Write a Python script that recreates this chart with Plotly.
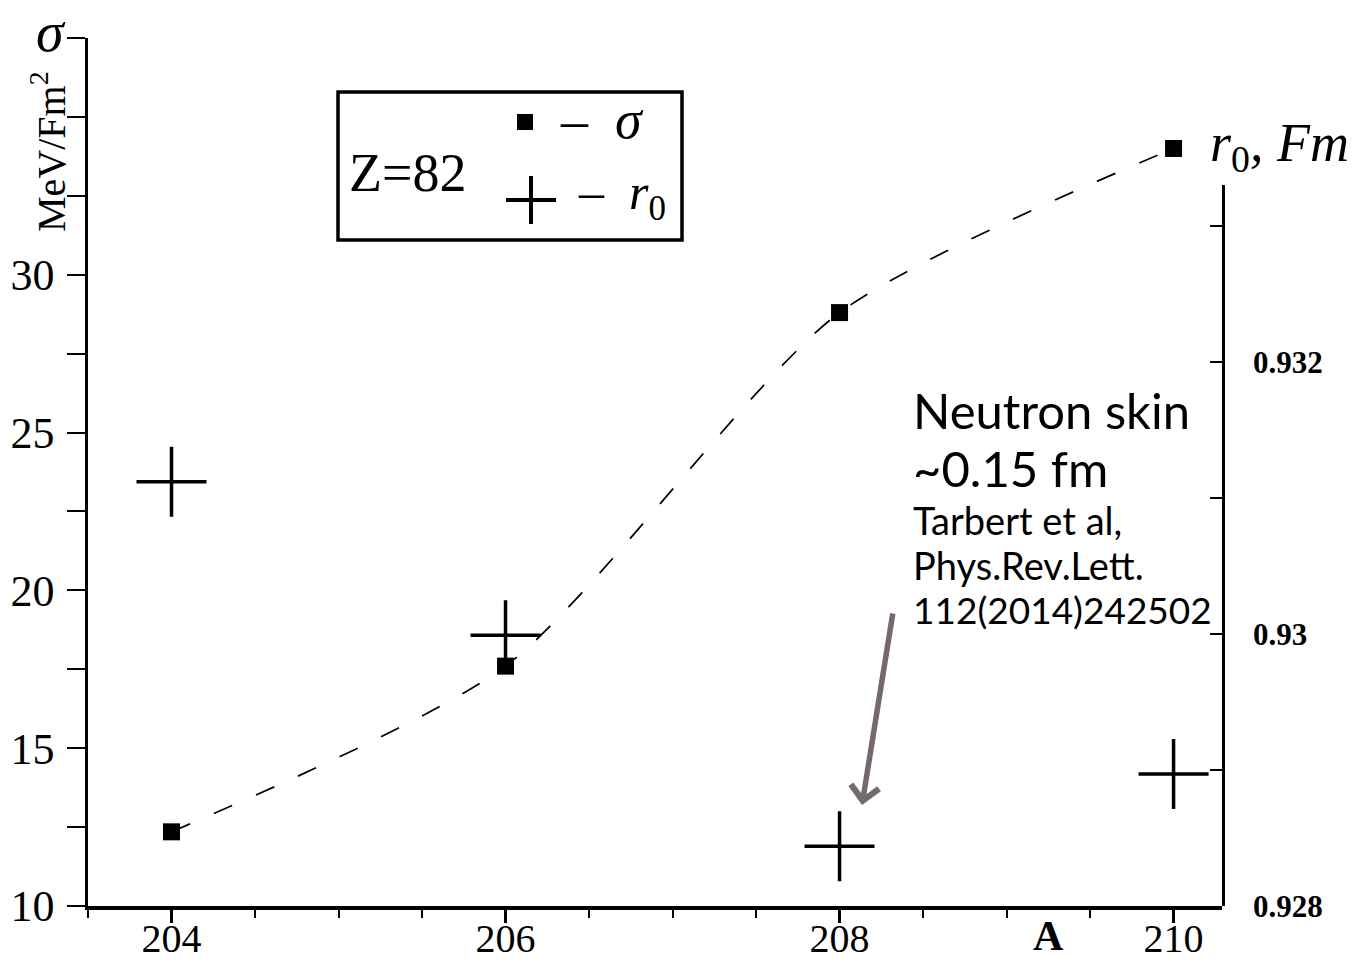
import plotly.graph_objects as go

# ---- data ----
A = [204, 206, 208, 210]
sigma = [12.35, 17.6, 28.8, 34.0]          # MeV/Fm^2 (left axis)
r0 = [0.93112, 0.92999, 0.92844, 0.92897]   # Fm (right axis)

x_ticks = [204, 206, 208, 210]
x_minor = [203.5, 204.5, 205, 205.5, 206.5, 207, 207.5, 208.5, 209, 209.5]
y_ticks = [10, 15, 20, 25, 30]
y_minor = [12.5, 17.5, 22.5, 27.5, 32.5, 35, 37.5]
y2_ticks = [0.928, 0.930, 0.932]
y2_ticktext = ["0.928", "0.93", "0.932"]
y2_minor = [0.929, 0.931, 0.933]

SERIF = "Liberation Serif"
SANS = "Lato"

# plot area in pixels: x 88..1222, y 38..906
L, R, T, B = 88, 1222, 38, 906
def px(x):
    return (x - L) / (R - L)
def py(y):
    return (B - y) / (B - T)

fig = go.Figure()
fig.add_trace(go.Scatter(
    x=A, y=sigma, mode="lines+markers",
    line=dict(color="black", width=1.7, dash="20px,26px", shape="spline", smoothing=0.7),
    marker=dict(symbol="square", size=17, color="black"),
    showlegend=False, cliponaxis=False))
fig.add_trace(go.Scatter(
    x=A, y=r0, mode="markers", yaxis="y2",
    marker=dict(symbol="cross-thin", size=50, color="black",
                line=dict(color="black", width=3.5)),
    showlegend=False, cliponaxis=False))

fig.update_layout(
    width=1360, height=963,
    margin=dict(l=L, r=1360 - R, t=T, b=963 - B, autoexpand=False),
    paper_bgcolor="white", plot_bgcolor="rgba(0,0,0,0)",
    xaxis=dict(range=[203.5, 210.29], tickvals=x_ticks, ticks="outside", ticklen=13,
               tickwidth=2.5, tickcolor="black", showline=True, linecolor="black",
               linewidth=4, showgrid=False, zeroline=False,
               tickfont=dict(family=SERIF, size=40, color="black"),
               ticklabelstandoff=-19,
               minor=dict(tickvals=x_minor, ticks="outside", ticklen=8, tickwidth=2,
                          tickcolor="black", showgrid=False)),
    yaxis=dict(range=[10, 37.5], tickvals=y_ticks, ticks="outside", ticklen=18,
               tickwidth=2, tickcolor="black", showline=True, linecolor="black",
               linewidth=2.5, showgrid=False, zeroline=False,
               tickfont=dict(family=SERIF, size=44, color="black"),
               ticklabelstandoff=4,
               minor=dict(tickvals=y_minor, ticks="outside", ticklen=18, tickwidth=2,
                          tickcolor="black", showgrid=False)),
    yaxis2=dict(domain=[0, py(185)], anchor="x", side="right",
                range=[0.928, 0.928 + (B - 185) / 136000.0],
                tickvals=y2_ticks, ticktext=y2_ticktext, ticks="inside", ticklen=12,
                tickwidth=2, tickcolor="black", showline=True, linecolor="black",
                linewidth=2.5, showgrid=False, zeroline=False,
                tickfont=dict(family=SERIF, size=31, color="black", weight="bold"),
                ticklabelstandoff=22,
                minor=dict(tickvals=y2_minor, ticks="inside", ticklen=12, tickwidth=2,
                           tickcolor="black", showgrid=False)),
)

shapes = [
    # legend box
    dict(type="rect", xref="paper", yref="paper", x0=px(338), x1=px(682),
         y0=py(240), y1=py(92), line=dict(color="black", width=3.5), fillcolor="rgba(0,0,0,0)"),
    # legend square
    dict(type="rect", xref="paper", yref="paper", x0=px(517), x1=px(533),
         y0=py(130), y1=py(114), line=dict(color="black", width=0), fillcolor="black"),
    # legend cross
    dict(type="line", xref="paper", yref="paper", x0=px(506), x1=px(556),
         y0=py(200), y1=py(200), line=dict(color="black", width=4)),
    dict(type="line", xref="paper", yref="paper", x0=px(531), x1=px(531),
         y0=py(224), y1=py(176), line=dict(color="black", width=4)),
]
fig.update_layout(shapes=shapes)

ann = []
def text(x, y, s, size, family=SERIF, xanchor="left", yanchor="middle", **kw):
    ann.append(dict(x=px(x), y=py(y), xref="paper", yref="paper", text=s, showarrow=False,
                    xanchor=xanchor, yanchor=yanchor,
                    font=dict(family=family, size=size, color="black"), **kw))

text(407, 173, "Z=82", 54, xanchor="center")
text(558, 120, "–  <i>σ</i>", 54)
text(576, 196, "–  <i>r</i><sub>0</sub>", 50)
text(51, 32, "<i>σ</i>", 56, xanchor="center")
text(48, 152, "MeV/Fm<sup>2</sup>", 40, xanchor="center", textangle=-90)
text(1208, 146, "<i>r</i><sub>0</sub><i>, Fm</i>", 54)
text(1048, 936, "<b>A</b>", 42, xanchor="center")

text(911, 410, "Neutron skin", 49, family=SANS)
text(911, 468, "~0.15 fm", 49, family=SANS)
text(911, 520, "Tarbert et al,", 38, family=SANS)
text(911, 565, "Phys.Rev.Lett.", 38, family=SANS)
text(911, 610, "112(2014)242502", 37, family=SANS)

ann.append(dict(x=px(862), y=py(805), xref="paper", yref="paper", showarrow=True,
                ax=31, ay=-193, axref="pixel", ayref="pixel", text="",
                arrowhead=4, arrowsize=1.0, arrowwidth=5.5, arrowcolor="rgb(117,105,110)"))
fig.update_layout(annotations=ann)

fig.write_html("out.html", config={"displayModeBar": False},
               post_script="document.body.style.margin='0px';")
